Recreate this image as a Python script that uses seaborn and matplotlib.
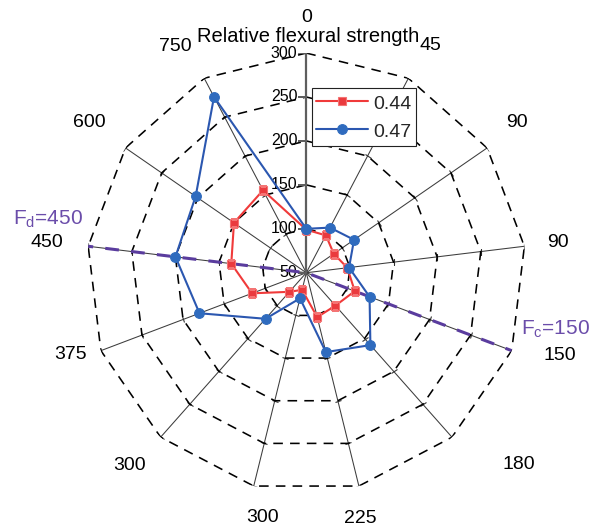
import numpy as np
import pandas as pd
import matplotlib
matplotlib.use("Agg")
import matplotlib.pyplot as plt
from matplotlib import markers
from matplotlib.markers import MarkerStyle
from matplotlib.transforms import Affine2D
import seaborn as sns

# spoke labels, clockwise from the top
categories = ['0', '45', '90', '90', '150', '180', '225', '300', '300', '375', '450', '600', '750']
# relative flexural strength for the two ratios
strength_044 = [99, 98, 88, 97, 109, 100, 102, 70, 79, 116, 136, 150, 156]
strength_047 = [100, 108, 116, 99, 127, 160, 143, 80, 120, 180, 200, 203, 276]
series_names = ['0.44', '0.47']
ring_values = [100, 150, 200, 250, 300]
radial_ticks = [50, 100, 150, 200, 250, 300]
fc_index, fd_index = 4, 10          # spokes marked F_c=150 and F_d=450

# label placement (angle in degrees clockwise from top, radius in data units)
label_angle = [0, 28.7, 54.5, 83.2, 108, 132, 167.7, 190.2, 222.5, 250.8, 276.6, 304.7, 329.9]
label_radius = [340, 345, 344, 338, 353, 376, 336, 333, 347, 334, 347, 350, 348]

sns.set_theme(style="white")
plt.rcParams['font.family'] = ['Liberation Sans', 'DejaVu Sans']
plt.rcParams['mathtext.default'] = 'regular'

n = len(categories)
theta = np.arange(n) * 2 * np.pi / n
theta_closed = np.append(theta, 2 * np.pi)

df = pd.DataFrame({
    'theta': np.concatenate([theta_closed, theta_closed]),
    'strength': strength_044 + strength_044[:1] + strength_047 + strength_047[:1],
    'ratio': [series_names[0]] * (n + 1) + [series_names[1]] * (n + 1),
})

fig = plt.figure(figsize=(5.92, 5.31), dpi=100)
ax = fig.add_axes([0.1463, 0.0726, 0.7422, 0.8275], projection='polar')
ax.set_theta_zero_location('N')
ax.set_theta_direction(-1)
ax.set_ylim(50, 300)
ax.grid(False)
ax.set_xticks([])
ax.set_yticks([])
ax.spines['polar'].set_visible(False)

# spokes
for i, t in enumerate(theta):
    if i == 0:
        continue
    ax.plot([t, t], [50, 300], color='#3c3c3c', lw=0.75, zorder=1)
    tick = MarkerStyle('|', transform=Affine2D().rotate_deg(90 - np.degrees(t)))
    ax.plot([t] * len(ring_values), ring_values, ls='none', marker=tick,
            ms=5, mew=0.8, color='#333333', zorder=1)

# dashed polygon rings
for rv in ring_values:
    ax.plot(theta_closed, [rv] * (n + 1), color='black', lw=1.15,
            linestyle=(0, (6, 4.5)), zorder=1)

# radial axis on the top spoke
ax.plot([0, 0], [50, 300], color='#5e5e5e', lw=1.6, zorder=2)
ax.plot([0] * len(radial_ticks), radial_ticks, ls='none', marker=markers.TICKLEFT,
        ms=6, mew=1.2, color='#5e5e5e', zorder=2)
for v in radial_ticks:
    ax.annotate(str(v), xy=(0, v), xytext=(-6.5, 0), textcoords='offset points',
                ha='right', va='center', fontsize=11.5, color='black')

# F_c / F_d reference lines
purple = '#5A3C9E'
ax.plot([theta[fd_index], 0, theta[fc_index]], [310, 50, 300], color=purple,
        lw=2.2, linestyle=(0, (4.5, 4)), zorder=3)
ax.annotate(r'F$_d$=450', xy=(theta[fd_index], 300), xytext=(-29.2, 15.3),
            textcoords='offset points', ha='center', va='baseline',
            fontsize=15, color='#6B4DAA')
ax.annotate(r'F$_c$=150', xy=(theta[fc_index], 300), xytext=(31.9, 11.3),
            textcoords='offset points', ha='center', va='baseline',
            fontsize=15, color='#6B4DAA')

# data series
sns.lineplot(data=df[df['ratio'] == series_names[0]], x='theta', y='strength',
             sort=False, estimator=None, color='#F03A3A', lw=1.5,
             marker='s', ms=6, mfc='#EA3A3E', mec='#F47474', mew=0.8,
             label=series_names[0], ax=ax, zorder=4)
sns.lineplot(data=df[df['ratio'] == series_names[1]], x='theta', y='strength',
             sort=False, estimator=None, color='#2B57B0', lw=1.5,
             marker='o', ms=7, mfc='#2F6BBE', mec='#2F6BBE', mew=0.8,
             label=series_names[1], ax=ax, zorder=5)
ax.set_xlabel('')
ax.set_ylabel('')
ax.set_xticks([])
ax.set_yticks([])

# spoke labels
for s, a, r in zip(categories, label_angle, label_radius):
    ax.text(np.radians(a), r, s, ha='center', va='center', fontsize=14,
            color='black', clip_on=False)

fig.text(308 / 592, 1 - 41.7 / 531, 'Relative flexural strength', ha='center',
         va='baseline', fontsize=14.5, color='black')

leg = ax.legend(loc='upper left', bbox_to_anchor=(311.7 / 592, 1 - 88.3 / 531),
                bbox_transform=fig.transFigure, frameon=True, fancybox=False,
                edgecolor='#222222', fontsize=14, handlelength=2.7,
                handleheight=1.2, handletextpad=0.26, borderpad=0.22,
                labelspacing=0.4, borderaxespad=0, framealpha=1)
leg.get_frame().set_linewidth(0.8)

fig.savefig('out.png', dpi=100)
